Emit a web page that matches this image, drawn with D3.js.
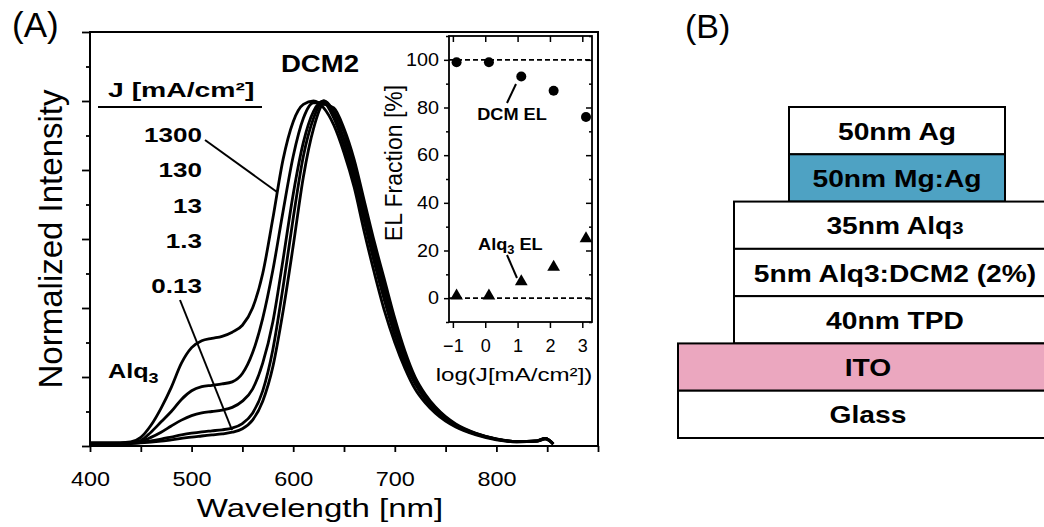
<!DOCTYPE html>
<html>
<head>
<meta charset="utf-8">
<script src="https://cdn.jsdelivr.net/npm/d3@7"></script>
<style>
    body { margin: 0; background: #fff; }
    svg { display: block; font-family: "Liberation Sans", Arial, Helvetica, sans-serif; }
    .axis path { display: none; }
    .axis line { stroke: #000; stroke-width: 1.8px; }
    .inset .axis line { stroke-width: 1.5px; }
</style>
</head>
<body>
<svg id="chart" width="1044" height="527"></svg>
<script>
// ---- data ----
var wavelength = [400, 420, 440, 450, 460, 470, 480, 490, 500, 510, 520, 530, 540, 550, 560, 570, 580, 590, 600, 610,
    620, 630, 640, 650, 660, 670, 680, 690, 700, 710, 720, 730, 740, 750, 760, 780, 800, 820, 840, 848, 856];

var spec1300 = [0.008, 0.008, 0.012, 0.025, 0.06, 0.11, 0.17, 0.24, 0.285, 0.305, 0.312, 0.318, 0.33, 0.35, 0.40, 0.50, 0.66, 0.83, 0.94, 0.99,
    1.0, 0.98, 0.93, 0.85, 0.75, 0.62, 0.50, 0.39, 0.30, 0.225, 0.165, 0.125, 0.095, 0.072, 0.055, 0.032, 0.018, 0.012, 0.014, 0.02, 0.006];
var spec130 = [0.008, 0.008, 0.01, 0.016, 0.04, 0.07, 0.10, 0.135, 0.16, 0.172, 0.176, 0.18, 0.186, 0.21, 0.27, 0.37, 0.51, 0.68, 0.84, 0.95,
    0.995, 0.995, 0.95, 0.87, 0.77, 0.65, 0.53, 0.42, 0.32, 0.24, 0.18, 0.135, 0.10, 0.077, 0.058, 0.034, 0.019, 0.012, 0.014, 0.021, 0.006];
var spec13 = [0.008, 0.008, 0.009, 0.013, 0.025, 0.04, 0.058, 0.075, 0.088, 0.096, 0.10, 0.104, 0.112, 0.13, 0.165, 0.24, 0.36, 0.54, 0.73, 0.88,
    0.97, 1.0, 0.96, 0.89, 0.79, 0.67, 0.55, 0.44, 0.34, 0.255, 0.19, 0.14, 0.105, 0.08, 0.06, 0.035, 0.02, 0.013, 0.015, 0.022, 0.006];
var spec1p3 = [0.008, 0.008, 0.008, 0.01, 0.015, 0.02, 0.026, 0.032, 0.037, 0.041, 0.044, 0.047, 0.052, 0.065, 0.095, 0.16, 0.28, 0.46, 0.66, 0.84,
    0.95, 1.0, 0.97, 0.91, 0.81, 0.69, 0.57, 0.46, 0.355, 0.265, 0.195, 0.145, 0.11, 0.083, 0.062, 0.036, 0.02, 0.013, 0.015, 0.022, 0.006];
var spec0p13 = [0.008, 0.008, 0.007, 0.009, 0.011, 0.014, 0.018, 0.022, 0.026, 0.029, 0.032, 0.035, 0.04, 0.05, 0.075, 0.13, 0.23, 0.39, 0.58, 0.78,
    0.92, 0.99, 0.98, 0.92, 0.83, 0.71, 0.59, 0.48, 0.37, 0.275, 0.20, 0.15, 0.113, 0.085, 0.064, 0.037, 0.021, 0.013, 0.015, 0.022, 0.006];

var currentLabels = ["1300", "130", "13", "1.3", "0.13"];
var spectra = [spec1300, spec130, spec13, spec1p3, spec0p13];

var logJ = [-0.886, 0.114, 1.114, 2.114, 3.114];
var dcmFraction = [99, 99, 93, 87, 76];
var alqFraction = [1, 1, 7, 13, 25];

var layerNames = ["50nm Ag", "50nm Mg:Ag", "35nm Alq", "5nm Alq3:DCM2 (2%)", "40nm TPD", "ITO", "Glass"];
var layerTier = [0, 0, 1, 1, 1, 2, 2];

// ---- setup ----
var svg = d3.select("#chart");

function label(sel, x, y, str, o) {
    o = o || {};
    return sel.append("text")
        .attr("transform", "translate(" + x + "," + y + ")" + (o.rot ? " rotate(" + o.rot + ")" : "") +
            " scale(" + (o.sx || 1) + ",1)")
        .attr("text-anchor", o.anchor || "start")
        .style("font-size", (o.size || 18) + "px")
        .style("font-weight", o.bold ? "bold" : "normal")
        .text(str);
}

// ---- (A) main spectra ----
var x = d3.scaleLinear().domain([400, 900]).range([90, 598]);
var y = d3.scaleLinear().domain([0, 1.2]).range([446, 32]);

var main = svg.append("g");

var line = d3.line()
    .x(function (d, i) { return x(wavelength[i]); })
    .y(function (d) { return y(d); })
    .curve(d3.curveMonotoneX);

main.selectAll("path.spec")
    .data(spectra)
    .enter().append("path")
    .attr("class", "spec")
    .attr("d", line)
    .attr("fill", "none")
    .attr("stroke", "#000")
    .attr("stroke-width", 2.8);

main.append("g").attr("class", "axis")
    .attr("transform", "translate(0,446)")
    .call(d3.axisBottom(x).tickValues(d3.range(400, 901, 50)).tickSize(6)
        .tickFormat(function (d) { return d % 100 === 0 && d < 900 ? d : ""; }))
    .selectAll("text")
    .attr("y", 40).attr("dy", 0)
    .attr("transform", "scale(1.2,1)")
    .style("font-size", "19.5px");

main.append("g").attr("class", "axis")
    .attr("transform", "translate(90,0)")
    .call(d3.axisLeft(y).tickValues(d3.range(0, 1.21, 0.2)).tickSize(8).tickFormat(""));
main.append("g").attr("class", "axis")
    .attr("transform", "translate(90,0)")
    .call(d3.axisLeft(y).tickValues(d3.range(0.1, 1.2, 0.2)).tickSize(4).tickFormat(""));

main.append("rect")
    .attr("x", x(400)).attr("y", y(1.2))
    .attr("width", x(900) - x(400)).attr("height", y(0) - y(1.2))
    .attr("fill", "none").attr("stroke", "#000").attr("stroke-width", 2);

label(main, 12, 37, "(A)", {size: 35});
label(main, 320, 517, "Wavelength [nm]", {size: 26, sx: 1.27, anchor: "middle"});
label(main, 62, 239, "Normalized Intensity", {size: 33, rot: -90, anchor: "middle"});

label(main, 320, 72, "DCM2", {size: 23, bold: true, sx: 1.2, anchor: "middle"});
var alq = label(main, 108, 378, "Alq", {size: 21, bold: true, sx: 1.2});
alq.append("tspan").attr("dy", 5).style("font-size", "15px").text("3");

label(main, 108, 97, "J [mA/cm²]", {size: 21, bold: true, sx: 1.35});
main.append("line").attr("x1", 98).attr("x2", 262).attr("y1", 107).attr("y2", 107)
    .attr("stroke", "#000").attr("stroke-width", 2);

var labelBase = [142, 177, 213, 248, 293];
currentLabels.forEach(function (c, i) {
    label(main, 202, labelBase[i], c, {size: 21, bold: true, sx: 1.24, anchor: "end"});
});
main.append("line").attr("x1", 205).attr("y1", 140).attr("x2", 277).attr("y2", 192)
    .attr("stroke", "#000").attr("stroke-width", 2);
main.append("line").attr("x1", 180).attr("y1", 300).attr("x2", 232).attr("y2", 430)
    .attr("stroke", "#000").attr("stroke-width", 2);

// ---- inset: EL fraction ----
var xIn = d3.scaleLinear().domain([-1.12, 3.3]).range([449, 592]);
var yIn = d3.scaleLinear().domain([-10, 110]).range([322, 36]);
var inset = svg.append("g").attr("class", "inset");

inset.append("rect")
    .attr("x", xIn(-1.12)).attr("y", yIn(110))
    .attr("width", xIn(3.3) - xIn(-1.12)).attr("height", yIn(-10) - yIn(110))
    .attr("fill", "#fff").attr("stroke", "#000").attr("stroke-width", 1.8);

[0, 100].forEach(function (v) {
    inset.append("line")
        .attr("x1", xIn(-1.12)).attr("x2", xIn(3.3))
        .attr("y1", yIn(v)).attr("y2", yIn(v))
        .attr("stroke", "#000").attr("stroke-width", 1.6)
        .attr("stroke-dasharray", "5,3");
});

inset.append("g").attr("class", "axis")
    .attr("transform", "translate(449,0)")
    .call(d3.axisLeft(yIn).tickValues(d3.range(0, 101, 20)).tickSize(5))
    .selectAll("text")
    .attr("x", -9)
    .attr("transform", "scale(1.1,1)")
    .style("font-size", "18px");
inset.append("g").attr("class", "axis")
    .attr("transform", "translate(449,0)")
    .call(d3.axisLeft(yIn).tickValues(d3.range(-10, 111, 20)).tickSize(3).tickFormat(""));
inset.append("g").attr("class", "axis")
    .attr("transform", "translate(592,0)")
    .call(d3.axisRight(yIn).tickValues(d3.range(0, 101, 20)).tickSize(-6).tickFormat(""));
inset.append("g").attr("class", "axis")
    .attr("transform", "translate(592,0)")
    .call(d3.axisRight(yIn).tickValues(d3.range(-10, 111, 20)).tickSize(-3).tickFormat(""));
inset.append("g").attr("class", "axis")
    .attr("transform", "translate(0,36)")
    .call(d3.axisTop(xIn).tickValues([-1, 0, 1, 2, 3]).tickSize(-6).tickFormat(""));
inset.append("g").attr("class", "axis")
    .attr("transform", "translate(0,322)")
    .call(d3.axisBottom(xIn).tickValues([-1, 0, 1, 2, 3]).tickSize(6).tickFormat(d3.format("d")))
    .selectAll("text")
    .attr("y", 30).attr("dy", 0)
    .style("font-size", "18px");

inset.selectAll("circle.dcm")
    .data(logJ)
    .enter().append("circle")
    .attr("class", "dcm")
    .attr("cx", function (d) { return xIn(d); })
    .attr("cy", function (d, i) { return yIn(dcmFraction[i]); })
    .attr("r", 5)
    .attr("fill", "#000");

inset.selectAll("path.alq")
    .data(logJ)
    .enter().append("path")
    .attr("class", "alq")
    .attr("d", d3.symbol().type(d3.symbolTriangle).size(70))
    .attr("transform", function (d, i) { return "translate(" + xIn(d) + "," + yIn(alqFraction[i]) + ")"; })
    .attr("fill", "#000");

label(inset, 402, 163, "EL Fraction [%]", {size: 23, rot: -90, anchor: "middle"});
label(inset, 514, 381, "log(J[mA/cm²])", {size: 19, sx: 1.27, anchor: "middle"});

label(inset, 512, 120, "DCM EL", {size: 17, bold: true, sx: 1.07, anchor: "middle"});
inset.append("line").attr("x1", 507).attr("y1", 103).attr("x2", 516).attr("y2", 84)
    .attr("stroke", "#000").attr("stroke-width", 2);

var alqEl = label(inset, 478, 250, "Alq", {size: 17, bold: true, sx: 1.07});
alqEl.append("tspan").attr("dy", 4).style("font-size", "12px").text("3");
alqEl.append("tspan").attr("dy", -4).text(" EL");
inset.append("line").attr("x1", 507).attr("y1", 255).attr("x2", 517).attr("y2", 278)
    .attr("stroke", "#000").attr("stroke-width", 2);

// ---- (B) device stack ----
var yL = d3.scaleBand().domain(layerNames).range([107, 438]);
var tierLeft = [789, 734, 678], tierRight = [1005, 1060, 1060], tierMid = [897, 895, 868];
var layerFill = {"50nm Mg:Ag": "#4ea2c3", "ITO": "#eba7bf"};

var stack = svg.append("g");
label(stack, 685, 38, "(B)", {size: 34});

stack.selectAll("rect")
    .data(layerNames)
    .enter().append("rect")
    .attr("x", function (d, i) { return tierLeft[layerTier[i]]; })
    .attr("y", function (d) { return yL(d); })
    .attr("width", function (d, i) { return tierRight[layerTier[i]] - tierLeft[layerTier[i]]; })
    .attr("height", yL.bandwidth())
    .attr("fill", function (d) { return layerFill[d] || "#fff"; })
    .attr("stroke", "#000")
    .attr("stroke-width", 2);

layerNames.forEach(function (d, i) {
    var t = label(stack, tierMid[layerTier[i]], yL(d) + yL.bandwidth() / 2 + 9, d,
        {size: 23.5, bold: true, sx: 1.2, anchor: "middle"});
    if (d === "35nm Alq") t.append("tspan").style("font-size", "17px").text("3");
});
</script>
</body>
</html>
